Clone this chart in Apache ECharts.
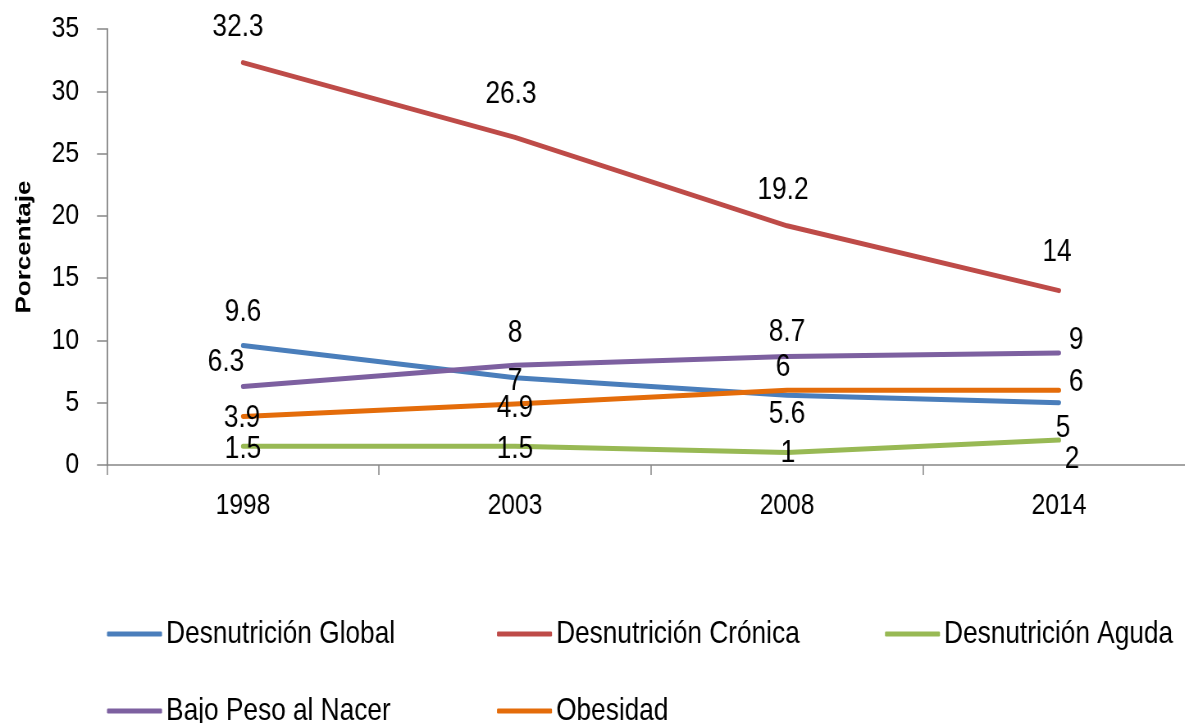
<!DOCTYPE html>
<html>
<head>
<meta charset="utf-8">
<script src="https://cdn.jsdelivr.net/npm/echarts@6/dist/echarts.min.js"></script>
<style>
html,body{margin:0;padding:0;background:#fff;overflow:hidden;width:1185px;height:723px}
#c{width:1470px;height:723px;transform:scaleX(0.82);transform-origin:0 0}
</style>
</head>
<body>
<div id="c"></div>
<script>
const years = ['1998', '2003', '2008', '2014'];
const seriesNames = ['Desnutrición Global', 'Desnutrición Crónica', 'Desnutrición Aguda', 'Bajo Peso al Nacer', 'Obesidad'];
const desnutricionGlobal = [9.6, 7, 5.6, 5];
const desnutricionCronica = [32.3, 26.3, 19.2, 14];
const desnutricionAguda = [1.5, 1.5, 1, 2];
const bajoPesoAlNacer = [6.3, 8, 8.7, 9];
const obesidad = [3.9, 4.9, 6, 6];
const yTicks = { min: 0, max: 35, interval: 5 };

const colors = ['#4A7EBB', '#BE4B48', '#98B954', '#7D60A0', '#E46C0A'];
const FONT = "'Liberation Sans', Arial, sans-serif";
const SX = 0.82; // horizontal condensing of the whole drawing (narrow type look)
const hx = v => v / SX;

// label placement per point: [position, distance, offset(screen px)]
const placements = [
  [['top', 16, [0, 0]], ['inside', 0, [0, 3]], ['bottom', 2, [0, 0]], ['bottom', 8, [4, 0]]],
  [['top', 18, [-5, 0]], ['top', 26, [-4, 0]], ['top', 19, [-4, 0]], ['top', 21, [-2, 0]]],
  [['inside', 0, [0, 3]], ['inside', 0, [0, 3]], ['inside', 0, [1, 1]], ['bottom', 2, [13, 0]]],
  [['top', 7, [-17, 0]], ['top', 15, [0, 0]], ['top', 7, [0, 0]], ['right', 9, [0, -13]]],
  [['inside', 0, [-1, 2]], ['inside', 0, [0, 4]], ['top', 6, [-4, 0]], ['right', 9, [0, -8]]]
];

const values = [desnutricionGlobal, desnutricionCronica, desnutricionAguda, bajoPesoAlNacer, obesidad];

const series = values.map((arr, si) => ({
  name: seriesNames[si],
  type: 'line',
  symbol: 'circle',
  symbolSize: 2,
  showSymbol: true,
  color: colors[si],
  lineStyle: { width: 5, color: colors[si], cap: 'round', join: 'round' },
  itemStyle: { color: colors[si] },
  emphasis: { disabled: true },
  animation: false,
  data: arr.map((v, i) => {
    const p = placements[si][i];
    return {
      value: v,
      label: {
        show: true,
        position: p[0],
        distance: p[0] === 'right' ? hx(p[1]) : p[1],
        offset: [hx(p[2][0]), p[2][1]],
        color: '#000',
        fontSize: 32,
        fontFamily: FONT
      }
    };
  })
}));

const legendLayout = [
  { left: 107, top: 618 },
  { left: 497, top: 618 },
  { left: 885, top: 618 },
  { left: 107, top: 695 },
  { left: 497, top: 695 }
];

const legends = seriesNames.map((n, i) => ({
  data: [n],
  left: hx(legendLayout[i].left),
  top: legendLayout[i].top,
  padding: 0,
  icon: 'roundRect',
  itemWidth: hx(55),
  itemHeight: 5,
  selectedMode: false,
  textStyle: { fontSize: 32, fontFamily: FONT, color: '#000' }
}));

const chart = echarts.init(document.getElementById('c'), null, { renderer: 'canvas' });
chart.setOption({
  backgroundColor: '#fff',
  animation: false,
  grid: { left: hx(107), top: 29, width: hx(1088), height: 436, containLabel: false },
  legend: legends,
  xAxis: {
    type: 'category',
    data: years,
    boundaryGap: true,
    axisLine: { lineStyle: { color: '#868686', width: 1.5 } },
    axisTick: { show: true, length: 10, lineStyle: { color: '#868686', width: 1.5 } },
    axisLabel: { fontSize: 30, fontFamily: FONT, color: '#000', margin: 26 },
    splitLine: { show: false }
  },
  yAxis: {
    type: 'value',
    min: yTicks.min,
    max: yTicks.max,
    interval: yTicks.interval,
    name: 'Porcentaje',
    nameLocation: 'middle',
    nameGap: hx(72),
    nameRotate: 90,
    nameTextStyle: { fontSize: 26, fontWeight: 'bold', fontFamily: FONT, color: '#000' },
    axisLine: { show: true, lineStyle: { color: '#868686', width: 1.8 } },
    axisTick: { show: true, length: hx(10), lineStyle: { color: '#868686', width: 1.5 } },
    axisLabel: { fontSize: 30, fontFamily: FONT, color: '#000', margin: hx(28) },
    splitLine: { show: false }
  },
  series: series
});
</script>
</body>
</html>
